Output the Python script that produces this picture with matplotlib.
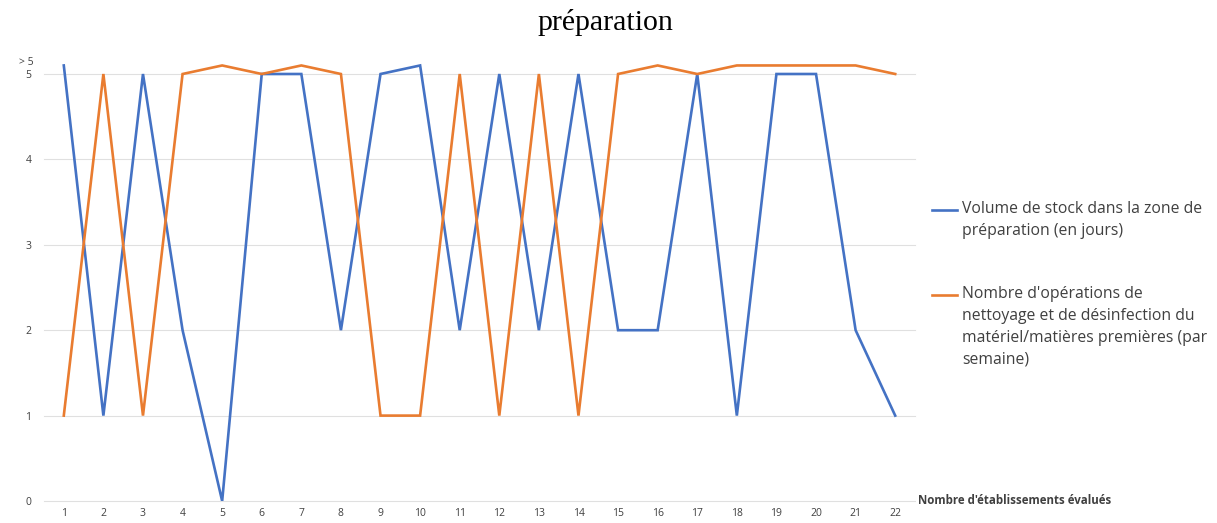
import matplotlib
matplotlib.use("Agg")
import matplotlib.pyplot as plt
from matplotlib.lines import Line2D

# établissements évalués
etablissements = list(range(1, 23))

# volume de stock (en jours), 5.1 = "> 5"
stock = [5.1, 1, 5, 2, 0, 5, 5, 2, 5, 5.1, 2, 5, 2, 5, 2, 2, 5, 1, 5, 5, 2, 1]
# opérations de nettoyage / désinfection par semaine
nettoyage = [1, 5, 1, 5, 5.1, 5, 5.1, 5, 1, 1, 5, 1, 5, 1, 5, 5.1, 5, 5.1, 5.1, 5.1, 5.1, 5]

y_ticks = [0, 1, 2, 3, 4, 5]
labels = [
    "Volume de stock dans la zone de\npréparation (en jours)",
    "Nombre d'opérations de\nnettoyage et de désinfection du\nmatériel/matières premières (par\nsemaine)",
]
colors = ["#4472C4", "#E97C30"]

W, H = 1217, 523
fig = plt.figure(figsize=(W / 100, H / 100), dpi=100)
ax = fig.add_axes([44 / W, 22 / H, 871 / W, 5.3 * 85.4 / H])

ax.plot(etablissements, stock, color=colors[0], lw=1.9, solid_joinstyle="miter")
ax.plot(etablissements, nettoyage, color=colors[1], lw=1.9, solid_joinstyle="miter")

ax.set_xlim(0.5, 22.5)
ax.set_ylim(0, 5.3)
ax.set_xticks(etablissements)
ax.set_yticks(y_ticks)
ax.tick_params(length=0, labelsize=7.5, labelcolor="#404040", pad=9)
ax.tick_params(axis="x", pad=5)
for lab in ax.get_xticklabels() + ax.get_yticklabels():
    lab.set_family("Open Sans")
ax.grid(axis="y", color="#e0e0e0", lw=0.8)
for gl in ax.get_ygridlines():
    gl.set_clip_on(False)
ax.set_axisbelow(True)
for s in ax.spines.values():
    s.set_visible(False)

ax.text(-0.012, 5.14, "> 5", transform=ax.get_yaxis_transform(), ha="right",
        va="center", fontsize=7.5, color="#404040", family="Open Sans")

ax.text(1.004, 0, "Nombre d'établissements évalués", transform=ax.transAxes,
        ha="left", va="center", fontsize=8.3, fontweight="bold", color="#404040",
        family="Open Sans")

fig.text(605 / W, 1 - 23 / H, "préparation", ha="center", va="center",
         fontsize=21.5, family="Liberation Serif")

# légende
rows = [210, 295]
for lab, col, y in zip(labels, colors, rows):
    fig.add_artist(Line2D([932 / W, 957 / W], [1 - y / H, 1 - y / H], color=col, lw=1.9))
    fig.text(962 / W, 1 - (y - 9) / H, lab, ha="left", va="top", fontsize=11.3,
             color="#404040", family="Open Sans", linespacing=1.5)

fig.savefig("out.png", dpi=100)
